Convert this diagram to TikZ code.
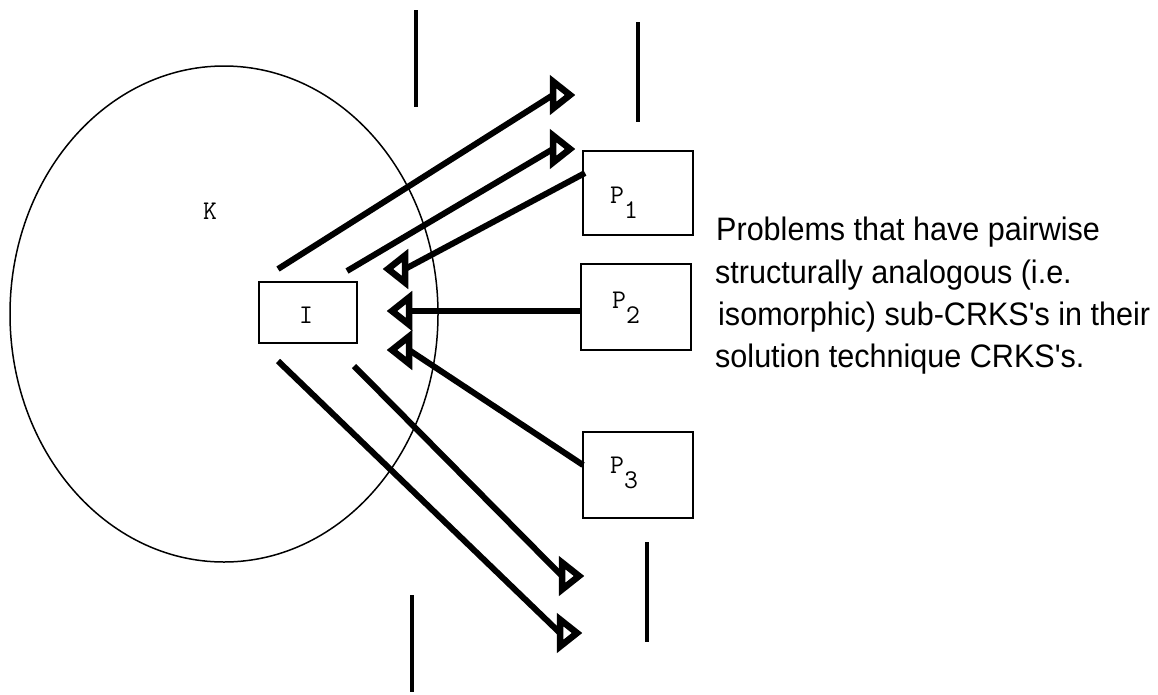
\documentclass[tikz,border=0pt]{standalone}
\usepackage{fontspec}
\newfontfamily\capf{Liberation Sans}[FakeStretch=0.94]
\usetikzlibrary{shapes.geometric}
\tikzset{
  box/.style={draw, line width=1.5pt, minimum width=110pt, minimum height=84pt, inner sep=0pt},
  shaft/.style={line width=6pt},
  tipline/.style={line width=6.5pt, line join=miter},
  bar/.style={line width=4pt},
  lab/.style={font=\ttfamily\fontsize{27}{30}\selectfont, inner sep=0pt},
  captionline/.style={font=\capf\fontsize{32.5}{40}\selectfont, inner sep=0pt, anchor=base west},
  rtip/.pic={\draw[tipline] (0,-13.5) -- (17,0) -- (0,13.5) -- cycle;},
  ltip/.pic={\draw[tipline] (0,-13.5) -- (-17,0) -- (0,13.5) -- cycle;}
}
\newcommand{\sbx}[1]{\raisebox{-15pt}{#1}}
\begin{document}
\begin{tikzpicture}[x=1pt,y=-1pt]
\useasboundingbox (0,0) rectangle (1158,694);
% set K
\node[draw, ellipse, line width=1.5pt, minimum width=428pt, minimum height=496pt, inner sep=0pt] (K) at (224,314) {};
\node[lab] (klab) at (210,211) {K};
% boxes
\node[box, minimum width=98pt, minimum height=61pt] (I) at (308,312.5) {};
\node[lab] (Ilab) at (306,315) {I};
\node[box] (P1) at (638,193) {};
\node[lab, anchor=base west] (P1lab) at (610,203) {P\sbx{1}};
\node[box, minimum height=86pt] (P2) at (636,307) {};
\node[lab, anchor=base west] (P2lab) at (612,308) {P\sbx{2}};
\node[box, minimum height=86pt] (P3) at (638,475) {};
\node[lab, anchor=base west] (P3lab) at (610,473) {P\sbx{3}};
% vertical bars
\coordinate (b1a) at (416,10);  \coordinate (b1b) at (416,107);
\coordinate (b2a) at (638,22);  \coordinate (b2b) at (638,122);
\coordinate (b3a) at (647,542); \coordinate (b3b) at (647,642);
\coordinate (b4a) at (412,595); \coordinate (b4b) at (412,692);
\draw[bar] (b1a) -- (b1b);
\draw[bar] (b2a) -- (b2b);
\draw[bar] (b3a) -- (b3b);
\draw[bar] (b4a) -- (b4b);
% arrow ends (start points and tip base centres)
\coordinate (s1) at (278,269); \coordinate (a1) at (553,95);
\coordinate (s2) at (347,271); \coordinate (a2) at (553,149);
\coordinate (p1o) at (585,173); \coordinate (a3) at (405,269);
\coordinate (a4) at (409,311);
\coordinate (p3o) at (583,465); \coordinate (a5) at (409,350);
\coordinate (s6) at (354,366); \coordinate (a6) at (562,576);
\coordinate (s7) at (278,361); \coordinate (a7) at (560,633);
\draw[shaft] (s1) -- (a1);  \pic at (a1) {rtip};
\draw[shaft] (s2) -- (a2);  \pic at (a2) {rtip};
\draw[shaft] (p1o) -- (a3); \pic at (a3) {ltip};
\draw[shaft] (P2.west |- a4) -- (a4); \pic at (a4) {ltip};
\draw[shaft] (p3o) -- (a5); \pic at (a5) {ltip};
\draw[shaft] (s6) -- (a6);  \pic at (a6) {rtip};
\draw[shaft] (s7) -- (a7);  \pic at (a7) {rtip};
% caption
\node[captionline] (cap1) at (716,240) {Problems that have pairwise};
\node[captionline] (cap2) at (715,283) {structurally analogous (i.e.};
\node[captionline] (cap3) at (718,325.5) {isomorphic) sub-CRKS's in their};
\node[captionline] (cap4) at (715,367.5) {solution technique CRKS's.};
\end{tikzpicture}
\end{document}
